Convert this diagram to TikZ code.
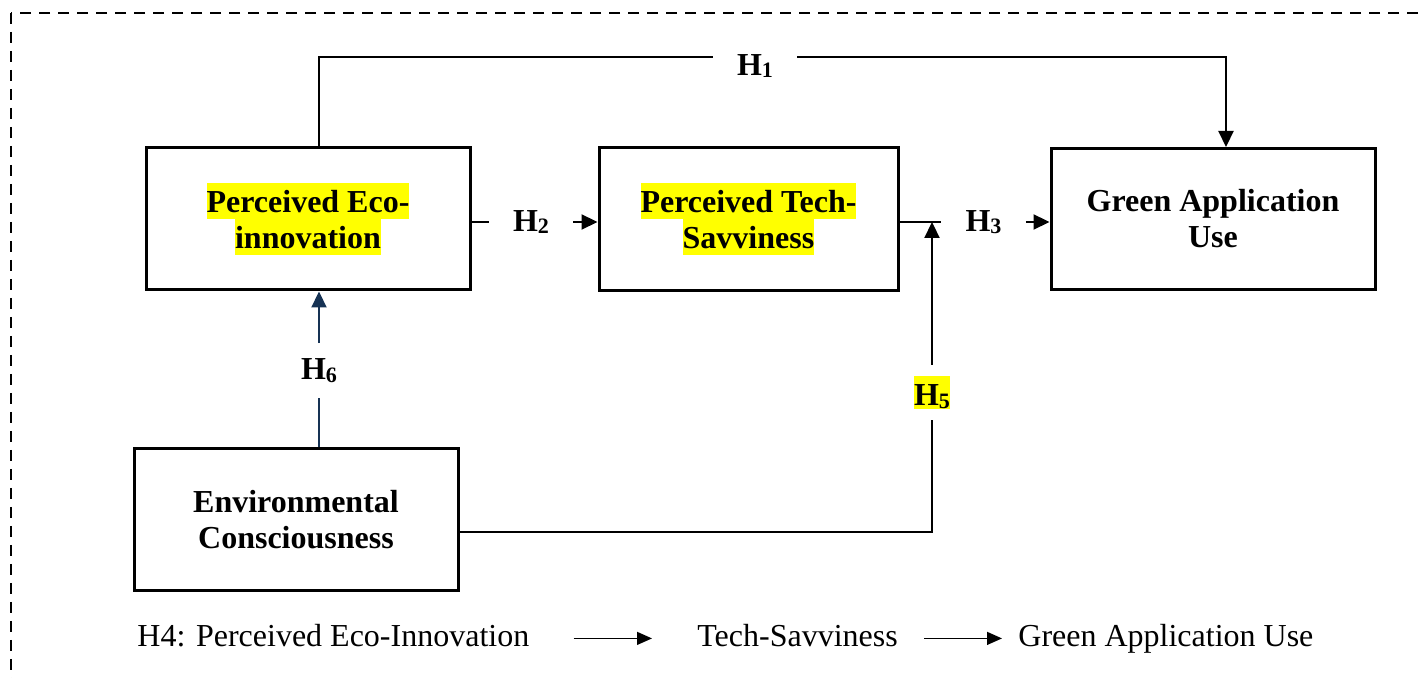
\documentclass[tikz,border=0pt]{standalone}
\usepackage{fontspec}
\setmainfont{Liberation Serif}
\usetikzlibrary{arrows.meta}
\definecolor{hlyellow}{RGB}{255,255,0}
\definecolor{pathnavy}{RGB}{22,50,84}
% hypothesis label: bold H with a lowered, smaller digit
\newcommand\hyp[1]{\textbf{H}\raisebox{-1.2pt}{\fontsize{11}{11}\selectfont\textbf{#1}}}
% highlighted line of box text
\newcommand\hlt[1]{{\setlength{\fboxsep}{0pt}\colorbox{hlyellow}{\rule[-3.4pt]{0pt}{18pt}#1}}}
\tikzset{
  frame/.style={draw=black, line width=1pt, dash pattern=on 5.5pt off 4pt},
  box/.style={draw=black, line width=1.5pt, align=center, inner sep=0pt,
              font=\fontsize{16}{18}\selectfont\bfseries},
  lbl/.style={inner xsep=12pt, inner ysep=0pt, font=\fontsize{16}{18}\selectfont},
  conn/.style={draw=black, line width=1.1pt},
  tip/.style={-{Triangle[length=8pt,width=7.5pt]}},
  navyconn/.style={draw=pathnavy, line width=1.1pt},
  legend/.style={inner sep=0pt, font=\fontsize{16}{18}\selectfont},
  legarrow/.style={draw=black, line width=0.65pt, -{Triangle[length=7.5pt,width=6.5pt]}}
}
\begin{document}
\begin{tikzpicture}[x=0.5pt,y=-0.5pt]
\useasboundingbox (0,0) rectangle (1421,678);
\clip (0,0) rectangle (1421,678);

% dashed outer frame (runs past the right and bottom edges)
\draw[frame] (11,13) rectangle (1470,730);

% construct boxes
\node[box, minimum width=162pt, minimum height=71pt] (pei) at (308,219)
  {\hlt{Perceived Eco-}\\\hlt{innovation}};
\node[box, minimum width=149.5pt, minimum height=71.5pt] (pts) at (748.5,219.5)
  {\hlt{Perceived Tech-}\\\hlt{Savviness}};
\node[box, minimum width=162pt, minimum height=70.5pt] (gau) at (1213,219)
  {Green Application\\Use};
\node[box, minimum width=162pt, minimum height=71pt] (ec) at (296,520)
  {Environmental\\Consciousness};

% hypothesis labels
\node[lbl] (h1) at (755,66) {\hyp{1}};
\node[lbl] (h2) at (531,222) {\hyp{2}};
\node[lbl] (h3) at (983.5,222) {\hyp{3}};
\node[inner xsep=0pt, inner ysep=5.5pt, font=\fontsize{16}{18}\selectfont] (h5) at (932,392.5)
  {{\setlength{\fboxsep}{0pt}\colorbox{hlyellow}{\rule[-1.5pt]{0pt}{16.5pt}\hyp{5}}}};
\node[inner xsep=0pt, inner ysep=7.6pt, font=\fontsize{16}{18}\selectfont] (h6) at (319,370.5)
  {\raisebox{-2.5pt}{\hyp{6}}};

% H1: eco-innovation to green application use, over the top
\coordinate (t1) at (319,57);
\coordinate (t2) at (1226,57);
\draw[conn] (t1 |- pei.north) -- (t1) -- (h1.west |- t1);
\draw[conn,tip] (h1.east |- t1) -- (t2) -- (t2 |- gau.north);

% H2 and H3 along the middle row
\draw[conn] (pei.east |- h2) -- (h2.west);
\draw[conn,tip] (h2.east) -- (pts.west |- h2);
\draw[conn] (pts.east |- h3) -- (h3.west);
\draw[conn,tip] (h3.east) -- (gau.west |- h3);

% H5: environmental consciousness moderating the H3 path
\coordinate (k5) at (932,532);
\draw[conn] (ec.east |- k5) -- (k5) -- (h5.south);
\draw[conn,tip] (h5.north) -- (h5.north |- h3);

% H6: environmental consciousness to eco-innovation
\draw[navyconn] (h6 |- ec.north) -- (h6.south);
\draw[navyconn,tip] (h6.north) -- (h6 |- pei.south);

% H4 mediation legend
\node[legend, anchor=base west] (l1) at (137,647) {H4: Perceived Eco-Innovation};
\node[legend, anchor=base west] (l2) at (697,647) {Tech-Savviness};
\node[legend, anchor=base west] (l3) at (1018,647) {Green Application Use};
\draw[legarrow, shorten <=22pt, shorten >=22.5pt] ([yshift=2pt]l1.mid east) -- ([yshift=2pt]l2.mid west);
\draw[legarrow, shorten <=13pt, shorten >=8pt] ([yshift=2pt]l2.mid east) -- ([yshift=2pt]l3.mid west);
\end{tikzpicture}
\end{document}
